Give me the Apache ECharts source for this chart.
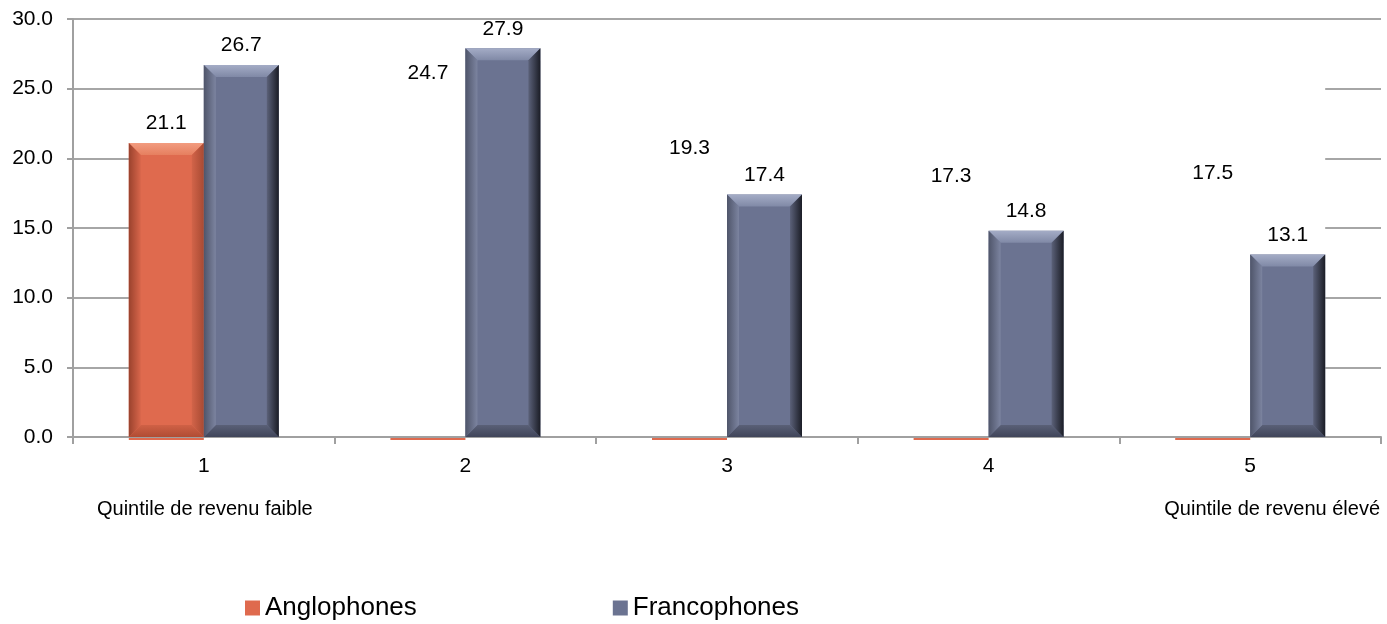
<!DOCTYPE html>
<html>
<head>
<meta charset="utf-8">
<script src="https://cdn.jsdelivr.net/npm/echarts@6/dist/echarts.min.js"></script>
<style>
  html, body { margin: 0; padding: 0; background: #fff; }
  #chart { width: 1387px; height: 624px; }
</style>
</head>
<body>
<div id="chart"></div>
<script>
// Income quintiles (1 = lowest, 5 = highest)
const categories = ['1', '2', '3', '4', '5'];
const anglophones = [21.1, 24.7, 19.3, 17.3, 17.5];
const francophones = [26.7, 27.9, 17.4, 14.8, 13.1];
const yTicks = [0, 5, 10, 15, 20, 25, 30];
const lowEndLabel = 'Quintile de revenu faible';
const highEndLabel = 'Quintile de revenu élevé';

// Only the first Anglophones column is painted; the others keep just their base strip.
const anglophonesFilled = [true, false, false, false, false];

const FONT = "'Liberation Sans', Arial, sans-serif";
const BAR_W = 75;
const BEVEL = 12;

const LG = (x0, y0, x1, y1, a, b) =>
  new echarts.graphic.LinearGradient(x0, y0, x1, y1, [{ offset: 0, color: a }, { offset: 1, color: b }]);

const palettes = {
  blue: {
    body: '#6b7391',
    top: ['#a4acc6', '#8089a6'],
    bottom: ['#5a6077', '#40455a'],
    left: ['#4f556a', '#7c84a0'],
    right: ['#5b6179', '#1b1d26']
  },
  orange: {
    body: '#df6a4e',
    top: ['#f29c80', '#e67f5f'],
    bottom: ['#cf6146', '#b04c34'],
    left: ['#9a422d', '#d8664b'],
    right: ['#d26449', '#a84a33']
  }
};

// Bevelled edges drawn over each bar, positioned through the axes' own scales
function bevelRenderer(side, pal, filled) {
  return function (params, api) {
    const i = api.value(0);
    const v = api.value(1);
    const topPt = api.coord([i, v]);
    const basePt = api.coord([i, 0]);
    const x0 = side < 0 ? topPt[0] - BAR_W : topPt[0];
    const x1 = x0 + BAR_W;
    const yT = topPt[1];
    const yB = basePt[1];
    const children = [];
    if (side < 0) {
      children.push({
        type: 'rect',
        shape: { x: x0, y: yB + 1, width: BAR_W, height: 2 },
        style: { fill: '#df6a4e' }
      });
    }
    if (filled && !filled[params.dataIndex]) {
      return { type: 'group', children: children };
    }
    const b = Math.min(BEVEL, (yB - yT) / 2);
    children.push(
      { type: 'polygon', shape: { points: [[x0, yT], [x1, yT], [x1 - b, yT + b], [x0 + b, yT + b]] },
        style: { fill: LG(0, 0, 0, 1, pal.top[0], pal.top[1]) } },
      { type: 'polygon', shape: { points: [[x0 + b, yB - b], [x1 - b, yB - b], [x1, yB], [x0, yB]] },
        style: { fill: LG(0, 0, 0, 1, pal.bottom[0], pal.bottom[1]) } },
      { type: 'polygon', shape: { points: [[x0, yT], [x0 + b, yT + b], [x0 + b, yB - b], [x0, yB]] },
        style: { fill: LG(0, 0, 1, 0, pal.left[0], pal.left[1]) } },
      { type: 'polygon', shape: { points: [[x1 - b, yT + b], [x1, yT], [x1, yB], [x1 - b, yB - b]] },
        style: { fill: LG(0, 0, 1, 0, pal.right[0], pal.right[1]) } }
    );
    return { type: 'group', children: children };
  };
}

// Plain white plane behind the bar block: from the first category's centre to the
// last bar's right edge, up to the tallest value. It sits above the grid lines.
function backdropRenderer(params, api) {
  const first = api.coord([api.value(0), api.value(2)]);
  const last = api.coord([api.value(1), 0]);
  const x0 = first[0];
  const x1 = last[0] + BAR_W;
  return {
    type: 'rect',
    shape: { x: x0, y: first[1], width: x1 - x0, height: last[1] - 1 - first[1] },
    style: { fill: '#fff' }
  };
}

const valueLabel = {
  show: true,
  position: 'top',
  distance: 9,
  color: '#000',
  fontSize: 21,
  fontFamily: FONT,
  formatter: p => Number(p.value).toFixed(1)
};

const chart = echarts.init(document.getElementById('chart'), null, { renderer: 'canvas' });

chart.setOption({
  animation: false,
  backgroundColor: '#fff',
  grid: { left: 73, right: 6, top: 19, bottom: 187 },
  legend: {
    data: ['Anglophones', 'Francophones'],
    left: 245,
    top: 595,
    padding: 0,
    itemGap: 196,
    itemWidth: 15,
    itemHeight: 15,
    icon: 'rect',
    textStyle: { fontSize: 26, color: '#000', fontFamily: FONT }
  },
  xAxis: {
    type: 'category',
    data: categories,
    axisLine: { show: true, lineStyle: { color: '#a0a0a0', width: 2 } },
    axisTick: { show: true, length: 7, lineStyle: { color: '#a0a0a0', width: 2 } },
    axisLabel: { margin: 19, fontSize: 21, color: '#000', fontFamily: FONT },
    splitLine: { show: false }
  },
  yAxis: {
    type: 'value',
    min: yTicks[0],
    max: yTicks[yTicks.length - 1],
    interval: yTicks[1] - yTicks[0],
    axisLine: { show: true, lineStyle: { color: '#a0a0a0', width: 2 } },
    axisTick: { show: true, length: 6, lineStyle: { color: '#a0a0a0', width: 2 } },
    axisLabel: { margin: 20, fontSize: 21, color: '#000', fontFamily: FONT,
      formatter: v => v.toFixed(1) },
    splitLine: { show: true, lineStyle: { color: '#a6a6a6', width: 2 } }
  },
  graphic: [
    { id: 'lowEnd', type: 'text', left: 97, top: 499,
      style: { text: lowEndLabel, fill: '#000', font: '20px ' + FONT } },
    { id: 'highEnd', type: 'text', right: 7, top: 499,
      style: { text: highEndLabel, fill: '#000', font: '20px ' + FONT } }
  ],
  series: [
    {
      name: 'backdrop',
      type: 'custom',
      z: 1,
      silent: true,
      renderItem: backdropRenderer,
      data: [[0, categories.length - 1, Math.max(...anglophones, ...francophones)]]
    },
    {
      name: 'Anglophones',
      type: 'bar',
      z: 2,
      barWidth: BAR_W,
      barGap: '0%',
      itemStyle: { color: palettes.orange.body },
      label: valueLabel,
      data: anglophones.map((v, i) => anglophonesFilled[i]
        ? v
        : { value: v, itemStyle: { color: 'rgba(0,0,0,0)' } })
    },
    {
      name: 'Francophones',
      type: 'bar',
      z: 2,
      barWidth: BAR_W,
      barGap: '0%',
      itemStyle: { color: palettes.blue.body },
      label: valueLabel,
      data: francophones
    },
    {
      name: 'anglophonesEdges',
      type: 'custom',
      z: 3,
      silent: true,
      renderItem: bevelRenderer(-1, palettes.orange, anglophonesFilled),
      data: anglophones.map((v, i) => [i, v])
    },
    {
      name: 'francophonesEdges',
      type: 'custom',
      z: 3,
      silent: true,
      renderItem: bevelRenderer(1, palettes.blue, null),
      data: francophones.map((v, i) => [i, v])
    }
  ]
});
</script>
</body>
</html>
